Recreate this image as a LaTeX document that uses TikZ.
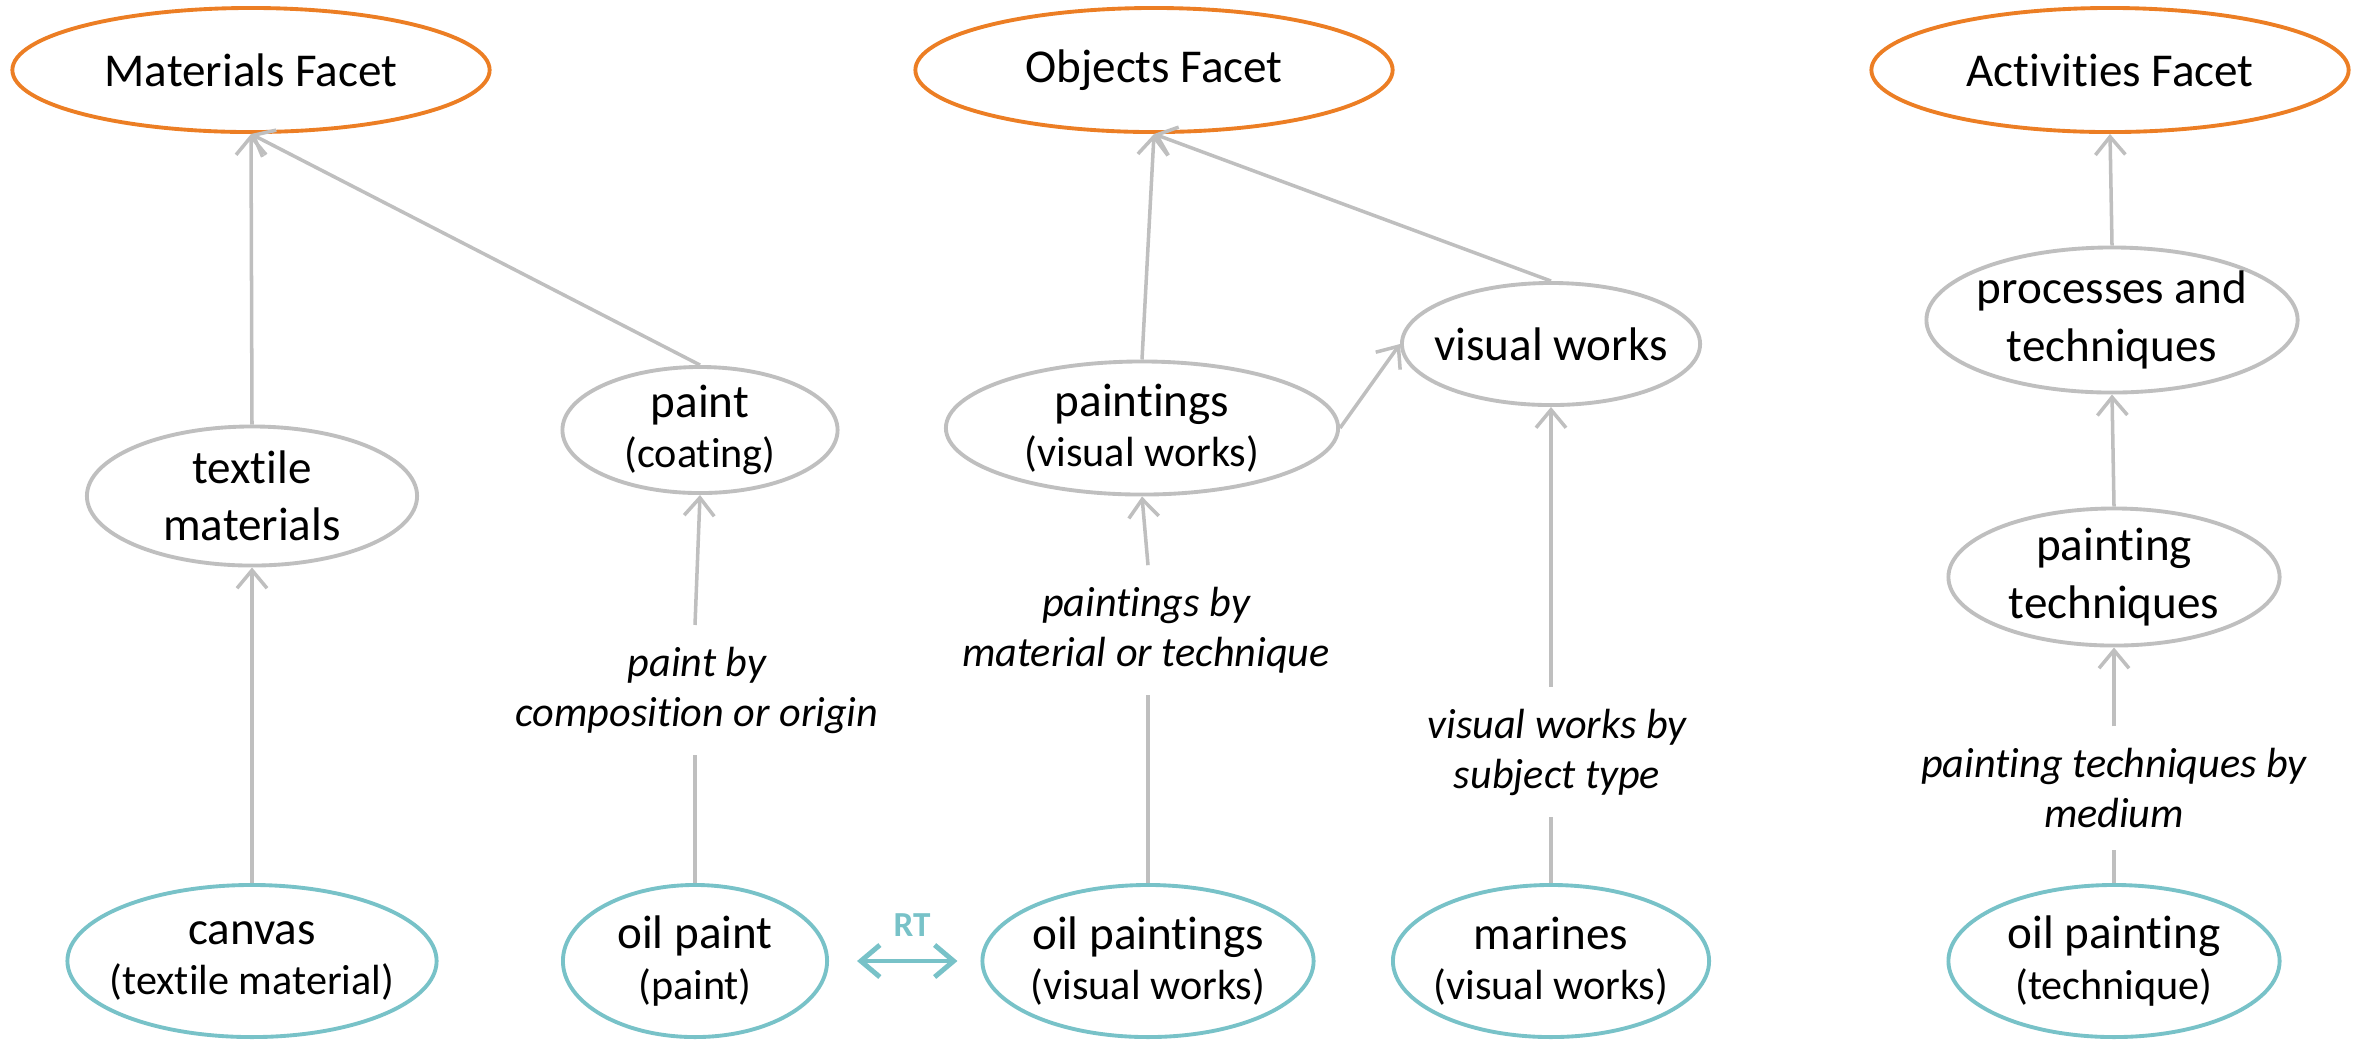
\documentclass[tikz,border=0pt]{standalone}
\usepackage{fontspec}
\setmainfont{Carlito}[Ligatures={NoCommon,NoRare,NoContextual},RawFeature={-liga;-clig;-dlig;-calt}]
\usetikzlibrary{shapes.geometric,arrows.meta}
\definecolor{facetc}{HTML}{EC7E24}
\definecolor{grayc}{HTML}{BFBFBF}
\definecolor{tealc}{HTML}{78C2C8}
\newcommand{\subl}[1]{\\[-2pt]{\fontsize{12}{14}\selectfont #1}}
\begin{document}
\begin{tikzpicture}[x=0.01cm,y=-0.01cm,
 base/.style={ellipse, inner sep=0pt, line width=1.1pt, fill=white},
 facetnode/.style={base, draw=facetc},
 midnode/.style={base, draw=grayc},
 leafnode/.style={base, draw=tealc},
 ntext/.style={align=center, font=\fontsize{13.4}{16.3}\selectfont, inner sep=0pt},
 lblnode/.style={align=center, font=\fontsize{12}{14.2}\selectfont\itshape, inner xsep=2pt, inner ysep=6pt},
 conn/.style={draw=grayc, line width=1pt},
 arr/.style={conn, -{Straight Barb[length=1.8mm,width=3.0mm]}},
 rtarr/.style={draw=tealc, line width=1.4pt, {Straight Barb[length=1.9mm,width=3.2mm]}-{Straight Barb[length=1.9mm,width=3.2mm]}}
]
\useasboundingbox (0,0) rectangle (2361,1041);

% facets
\node[facetnode, minimum width=4.77cm, minimum height=1.24cm, label={[ntext]center:Materials Facet}] (mat) at (251,70) {};
\node[facetnode, minimum width=4.77cm, minimum height=1.24cm, label={[ntext]center:Objects Facet}] (obj) at (1154,70) {};
\node[facetnode, minimum width=4.77cm, minimum height=1.24cm, label={[ntext]center:Activities Facet}] (act) at (2110,70) {};

% middle nodes
\node[midnode, minimum width=3.30cm, minimum height=1.39cm, label={[ntext]center:textile\\materials}] (tex) at (252,496) {};
\node[midnode, minimum width=2.75cm, minimum height=1.26cm, label={[ntext]center:paint\subl{(coating)}}] (paint) at (700,430) {};
\node[midnode, minimum width=3.92cm, minimum height=1.33cm, label={[ntext]center:paintings\subl{(visual works)}}] (pntgs) at (1142,428) {};
\node[midnode, minimum width=2.98cm, minimum height=1.22cm, label={[ntext]center:visual works}] (vw) at (1551,344) {};
\node[midnode, minimum width=3.71cm, minimum height=1.45cm, label={[ntext]center:processes and\\techniques}] (proc) at (2112,320) {};
\node[midnode, minimum width=3.31cm, minimum height=1.37cm, label={[ntext]center:painting\\techniques}] (ptech) at (2114,577) {};

% leaf nodes
\node[leafnode, minimum width=3.69cm, minimum height=1.52cm, label={[ntext]center:canvas\subl{(textile material)}}] (canvas) at (252,961) {};
\node[leafnode, minimum width=2.64cm, minimum height=1.52cm, label={[ntext]center:oil paint\subl{(paint)}}] (oilp) at (695,961) {};
\node[leafnode, minimum width=3.31cm, minimum height=1.52cm, label={[ntext]center:oil paintings\subl{(visual works)}}] (oilps) at (1148,961) {};
\node[leafnode, minimum width=3.16cm, minimum height=1.52cm, label={[ntext]center:marines\subl{(visual works)}}] (mar) at (1551,961) {};
\node[leafnode, minimum width=3.31cm, minimum height=1.52cm, label={[ntext]center:oil painting\subl{(technique)}}] (oilpt) at (2114,961) {};

% labels
\node[lblnode] (l1) at (697,690) {paint by\\composition or origin};
\node[lblnode] (l2) at (1146,630) {paintings by\\material or technique};
\node[lblnode] (l3) at (1557,752) {visual works by\\subject type};
\node[lblnode] (l4) at (2114,788) {painting techniques by\\medium};
\node[text=tealc, font=\fontsize{10}{12}\selectfont\bfseries] (rt) at (912,925) {RT};

% connectors
\draw[arr] (tex.north) -- (mat.south);
\draw[arr] (paint.north) -- (mat.south);
\draw[arr] (canvas.north) -- (tex.south);

\draw[conn] (oilp.north) -- (oilp.north |- l1.south);
\draw[arr] (oilp.north |- l1.north) -- (paint.south);

\draw[conn] (oilps.north) -- (oilps.north |- l2.south);
\draw[arr] (oilps.north |- l2.north) -- (pntgs.south);

\draw[arr] (pntgs.north) -- (obj.south);
\draw[arr] (vw.north) -- (obj.south);
\draw[arr] (pntgs.east) -- (vw.west);

\draw[conn] (mar.north) -- (mar.north |- l3.south);
\draw[arr] (mar.north |- l3.north) -- (vw.south);

\draw[arr] (proc.north) -- (act.south);
\draw[arr] (ptech.north) -- (proc.south);
\draw[conn] (oilpt.north) -- (oilpt.north |- l4.south);
\draw[arr] (oilpt.north |- l4.north) -- (ptech.south);

\draw[rtarr, shorten <=2.8mm, shorten >=2.3mm] (oilp.east) -- (oilps.west);
\end{tikzpicture}
\end{document}
